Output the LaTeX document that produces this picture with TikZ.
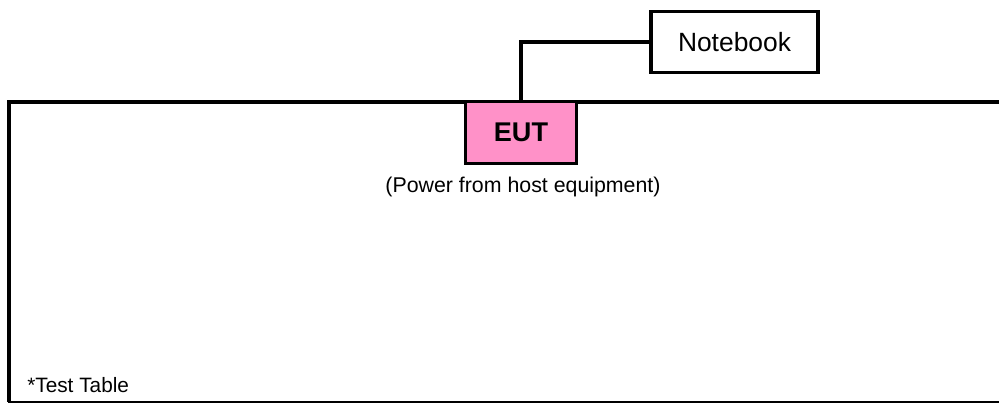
\documentclass[tikz,border=0pt]{standalone}
\usepackage{fontspec}
\setmainfont{Liberation Sans}
\usetikzlibrary{positioning}
\definecolor{eutpink}{HTML}{FF91C8}
\tikzset{
	box/.style={draw, line width=2.6pt, minimum width=111pt*0.75, minimum height=62pt*0.75, inner sep=0pt},
	link/.style={line width=2.4pt}
}
\begin{document}
\begin{tikzpicture}[x=0.75pt, y=-0.75pt, line join=miter, font=\fontsize{15.6}{18}\selectfont]
	\def\xmin{0} \def\xmax{999} \def\ymin{0} \def\ymax{405}
	\useasboundingbox (\xmin,\ymin) rectangle (\xmax,\ymax);
	\begin{scope}
		\clip (\xmin,\ymin) rectangle (\xmax,\ymax);
		\draw[line width=2.6pt] (1010,102)--(9,102)--(9,402);
		\draw[line width=1.8pt] (7.5,402)--(1010,402);
	\end{scope}
	\node[box, fill=eutpink, font=\fontsize{20.3}{22}\selectfont\bfseries] (eut) at (521,132.5) {EUT};
	\node[box, fill=white, minimum width=167pt*0.75, minimum height=61.5pt*0.75, font=\fontsize{19.8}{22}\selectfont] (nb) at (734.5,42) {Notebook};
	\draw[link] (eut.north) |- (nb.west);
	\node[font=\fontsize{16}{18}\selectfont] (power) at (523,187) {(Power from host equipment)};
	\node[anchor=west, inner sep=0pt] (table) at (27,385) {*Test Table};
\end{tikzpicture}
\end{document}
